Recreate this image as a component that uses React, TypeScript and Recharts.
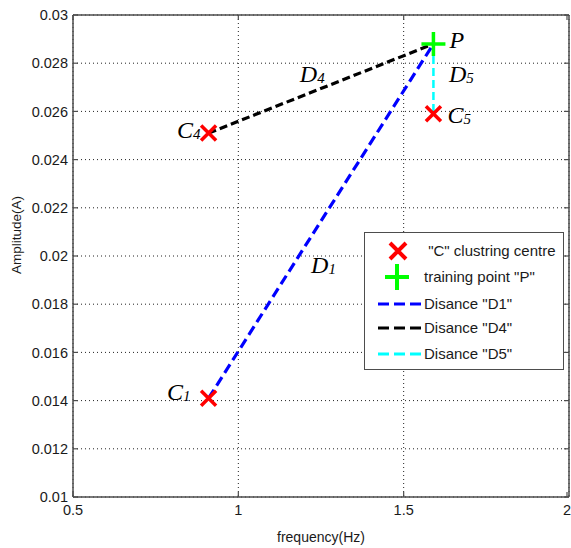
import React from "react";
import { ScatterChart, Scatter, XAxis, YAxis, CartesianGrid, Legend } from "recharts";

// axis ticks
const xTicks = [0.5, 1, 1.5, 2];
const yTicks = [0.01, 0.012, 0.014, 0.016, 0.018, 0.02, 0.022, 0.024, 0.026, 0.028, 0.03];

// "C" clustering centres and training point "P"
const centres = [
  { name: "C1", frequency: 0.91, amplitude: 0.0141 },
  { name: "C4", frequency: 0.91, amplitude: 0.0251 },
  { name: "C5", frequency: 1.59, amplitude: 0.0259 },
];
const trainingPoint = [{ name: "P", frequency: 1.59, amplitude: 0.0288 }];

// distances drawn from the centres to P
const distanceD1 = [centres[0], trainingPoint[0]];
const distanceD4 = [centres[1], trainingPoint[0]];
const distanceD5 = [trainingPoint[0], centres[2]];

// where the D labels sit on the plot
const distanceNames = [
  { name: "D1", frequency: 1.22, amplitude: 0.0193 },
  { name: "D4", frequency: 1.186, amplitude: 0.02722 },
  { name: "D5", frequency: 1.637, amplitude: 0.02722 },
];

const legendItems = [
  { label: ' "C" clustring centre', icon: "cross", color: "#ff0000" },
  { label: 'training point "P"', icon: "plus", color: "#00ff00" },
  { label: 'Disance "D1"', icon: "line", color: "#0000ff" },
  { label: 'Disance "D4"', icon: "line", color: "#000000" },
  { label: 'Disance "D5"', icon: "line", color: "#00ffff" },
];

const AXIS = "#4d4d4d";
const TEXT = "#1a1a1a";
const SANS = "'Liberation Sans', Arial, sans-serif";
const SERIF = "'Liberation Serif', 'DejaVu Serif', serif";

// pixel offsets of the point names from their markers
const nameOffsets: Record<string, { dx: number; dy: number; anchor: "start" | "end" }> = {
  C1: { dx: -18, dy: 2, anchor: "end" },
  C4: { dx: -8, dy: 5, anchor: "end" },
  C5: { dx: 14, dy: 9, anchor: "start" },
  P: { dx: 16, dy: 4, anchor: "start" },
};

const MathName = ({ x, y, name, anchor }: { x: number; y: number; name: string; anchor: "start" | "end" }) => (
  <text x={x} y={y} textAnchor={anchor} fontFamily={SERIF} fontStyle="italic" fontSize={24} fill="#000">
    {name[0]}
    {name.length > 1 && (
      <tspan fontSize={15} dy={1}>
        {name.slice(1)}
      </tspan>
    )}
  </text>
);

const CrossMarker = (props: any) => {
  const { cx, cy, payload } = props;
  const s = 7.5;
  const o = nameOffsets[payload.name];
  return (
    <g>
      <path
        d={`M${cx - s},${cy - s}L${cx + s},${cy + s}M${cx - s},${cy + s}L${cx + s},${cy - s}`}
        stroke="#ff0000"
        strokeWidth={3.5}
      />
      <MathName x={cx + o.dx} y={cy + o.dy} name={payload.name} anchor={o.anchor} />
    </g>
  );
};

const PlusMarker = (props: any) => {
  const { cx, cy, payload } = props;
  const s = 12;
  const o = nameOffsets[payload.name];
  return (
    <g>
      <path d={`M${cx - s},${cy}L${cx + s},${cy}M${cx},${cy - s}L${cx},${cy + s}`} stroke="#00ff00" strokeWidth={3.5} />
      <MathName x={cx + o.dx} y={cy + o.dy} name={payload.name} anchor={o.anchor} />
    </g>
  );
};

const NameOnly = (props: any) => (
  <MathName x={props.cx} y={props.cy} name={props.payload.name} anchor="start" />
);

const NoMarker = () => <g />;

const BottomTick = (props: any) => {
  const { x, y, payload } = props;
  return (
    <g>
      <line x1={x} x2={x} y1={y - 8} y2={y - 13} stroke={AXIS} strokeWidth={1.2} />
      <text x={x} y={y} dy="0.71em" textAnchor="middle" fontFamily={SANS} fontSize={14.5} fill={TEXT}>
        {String(payload.value)}
      </text>
    </g>
  );
};

const LeftTick = (props: any) => {
  const { x, y, payload } = props;
  return (
    <g>
      <line x1={x + 5} x2={x + 10} y1={y} y2={y} stroke={AXIS} strokeWidth={1.2} />
      <text x={x} y={y} dy="0.355em" textAnchor="end" fontFamily={SANS} fontSize={14.5} fill={TEXT}>
        {String(payload.value)}
      </text>
    </g>
  );
};

const TopTick = (props: any) => {
  const { x, y } = props;
  return <line x1={x} x2={x} y1={y} y2={y + 5} stroke={AXIS} strokeWidth={1.2} />;
};

const RightTick = (props: any) => {
  const { x, y } = props;
  return <line x1={x - 5} x2={x} y1={y} y2={y} stroke={AXIS} strokeWidth={1.2} />;
};

const AmplitudeTitle = (props: any) => {
  const vb = props.viewBox || { x: 0, y: 15, width: 73, height: 482 };
  const cx = vb.x + 16;
  const cy = vb.y + vb.height / 2 - 21;
  return (
    <text
      x={cx}
      y={cy}
      transform={`rotate(-90 ${cx} ${cy})`}
      textAnchor="middle"
      dominantBaseline="central"
      fontFamily={SANS}
      fontSize={13.5}
      fill={TEXT}
    >
      Amplitude(A)
    </text>
  );
};

const legendRows = [18, 44, 71, 95, 121];

const LegendBox = () => (
  <div
    style={{
      width: 200,
      height: 138,
      border: `1.5px solid ${AXIS}`,
      background: "#fff",
      boxSizing: "border-box",
    }}
  >
    <svg width={197} height={135} style={{ display: "block" }}>
      {legendItems.map((item, i) => {
        const cy = legendRows[i];
        let icon;
        if (item.icon === "cross") {
          icon = (
            <path
              d={`M${25},${cy - 8}L${41},${cy + 8}M${25},${cy + 8}L${41},${cy - 8}`}
              stroke={item.color}
              strokeWidth={4}
            />
          );
        } else if (item.icon === "plus") {
          icon = (
            <path
              d={`M${20},${cy}L${44},${cy}M${32},${cy - 13}L${32},${cy + 13}`}
              stroke={item.color}
              strokeWidth={4}
            />
          );
        } else {
          icon = (
            <line x1={13} x2={57} y1={cy} y2={cy} stroke={item.color} strokeWidth={3} strokeDasharray="11 5" />
          );
        }
        return (
          <g key={item.label}>
            {icon}
            <text
              x={59}
              y={cy}
              dy="0.36em"
              fontFamily={SANS}
              fontSize={15}
              fill={TEXT}
              style={{ whiteSpace: "pre" }}
            >
              {item.label}
            </text>
          </g>
        );
      })}
    </svg>
  </div>
);

export default function App() {
  return (
    <div style={{ position: "absolute", left: 0, top: 0, background: "#fff" }}>
      <ScatterChart width={571} height={548} margin={{ top: 0, right: 0, bottom: 0, left: 0 }}>
        <CartesianGrid stroke="#222" strokeDasharray="1 3" strokeWidth={1} />
        <XAxis
          dataKey="frequency"
          type="number"
          domain={[0.5, 2]}
          ticks={xTicks}
          allowDataOverflow
          height={51}
          tickSize={8}
          tickMargin={0}
          tickLine={false}
          tick={BottomTick}
          axisLine={{ stroke: AXIS, strokeWidth: 1.5 }}
          label={{ value: "frequency(Hz)", position: "insideBottom", offset: 6, fontSize: 14, fontFamily: SANS, fill: TEXT }}
        />
        <XAxis
          xAxisId="top"
          orientation="top"
          dataKey="frequency"
          type="number"
          domain={[0.5, 2]}
          ticks={xTicks}
          allowDataOverflow
          height={15}
          tickSize={0}
          tickMargin={0}
          tickLine={false}
          tick={TopTick}
          axisLine={{ stroke: AXIS, strokeWidth: 1.5 }}
        />
        <YAxis
          dataKey="amplitude"
          type="number"
          domain={[0.01, 0.03]}
          ticks={yTicks}
          allowDataOverflow
          width={73}
          tickSize={5}
          tickMargin={0}
          tickLine={false}
          tick={LeftTick}
          axisLine={{ stroke: AXIS, strokeWidth: 1.5 }}
          label={{ content: AmplitudeTitle }}
        />
        <YAxis
          yAxisId="right"
          orientation="right"
          dataKey="amplitude"
          type="number"
          domain={[0.01, 0.03]}
          ticks={yTicks}
          allowDataOverflow
          width={2}
          tickSize={0}
          tickMargin={0}
          tickLine={false}
          tick={RightTick}
          axisLine={{ stroke: AXIS, strokeWidth: 1.5 }}
        />
        <Legend
          layout="vertical"
          align="center"
          verticalAlign="middle"
          wrapperStyle={{ left: 364, top: 232, width: 200, height: 138 }}
          content={() => <LegendBox />}
        />
        <Scatter
          name='Disance "D1"'
          data={distanceD1}
          fill="#0000ff"
          line={{ stroke: "#0000ff", strokeWidth: 3.2, strokeDasharray: "10 5" }}
          shape={NoMarker}
          isAnimationActive={false}
        />
        <Scatter
          name='Disance "D4"'
          data={distanceD4}
          fill="#000000"
          line={{ stroke: "#000000", strokeWidth: 3.2, strokeDasharray: "8 4" }}
          shape={NoMarker}
          isAnimationActive={false}
        />
        <Scatter
          name='Disance "D5"'
          data={distanceD5}
          fill="#00ffff"
          line={{ stroke: "#00ffff", strokeWidth: 2.5, strokeDasharray: "8 4" }}
          shape={NoMarker}
          isAnimationActive={false}
        />
        <Scatter name='"C" clustring centre' data={centres} fill="#ff0000" shape={CrossMarker} isAnimationActive={false} />
        <Scatter name='training point "P"' data={trainingPoint} fill="#00ff00" shape={PlusMarker} isAnimationActive={false} />
        <Scatter name="distance names" data={distanceNames} fill="#000" shape={NameOnly} isAnimationActive={false} />
      </ScatterChart>
    </div>
  );
}
